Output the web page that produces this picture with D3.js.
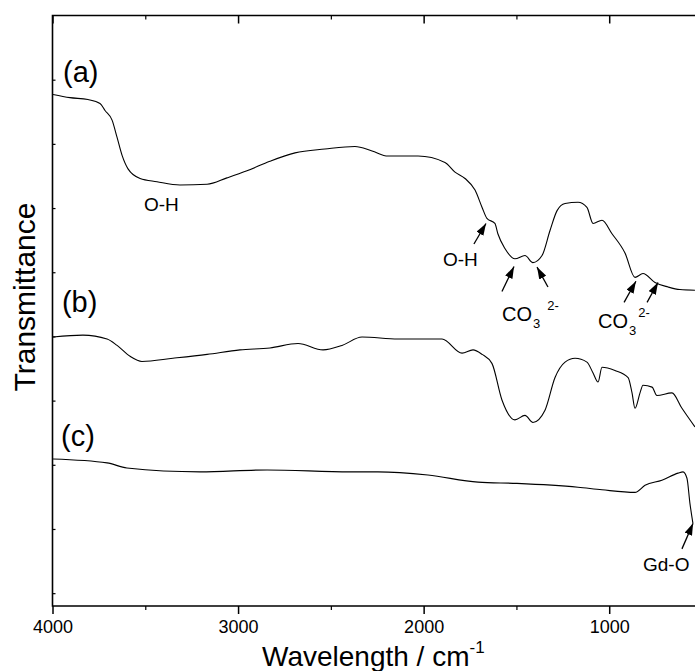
<!DOCTYPE html>
<html>
<head>
<meta charset="utf-8">
<script src="https://cdn.jsdelivr.net/npm/d3@7"></script>
<style>
  body { margin: 0; background: #fff; }
  svg { display: block; font-family: "Liberation Sans", Arial, sans-serif; }
</style>
</head>
<body>
<div id="chart"></div>
<script>
// spectra: [wavenumber, transmittance (a.u.)]
var seriesA = [
  [3997, 7.77], [3906, 7.72], [3809, 7.69], [3744, 7.63], [3717, 7.52], [3679, 7.37],
  [3652, 7.10], [3625, 6.82], [3593, 6.61], [3528, 6.46], [3437, 6.41], [3313, 6.36],
  [3167, 6.37], [3060, 6.47], [2952, 6.58], [2828, 6.73], [2693, 6.86], [2532, 6.92],
  [2370, 6.96], [2278, 6.89], [2192, 6.81], [2030, 6.81], [1885, 6.71], [1831, 6.56],
  [1777, 6.46], [1723, 6.28], [1685, 6.01], [1659, 5.84], [1616, 5.76], [1600, 5.60],
  [1562, 5.37], [1508, 5.21], [1454, 5.26], [1411, 5.15], [1362, 5.26], [1319, 5.65],
  [1281, 5.96], [1238, 6.07], [1168, 6.09], [1120, 6.01], [1087, 5.76], [1039, 5.81],
  [985, 5.60], [915, 5.30], [861, 4.92], [818, 4.98], [753, 4.84], [683, 4.77],
  [619, 4.73], [538, 4.72]
];
var seriesB = [
  [3997, 3.99], [3836, 4.02], [3706, 3.96], [3652, 3.86], [3582, 3.69], [3518, 3.61],
  [3351, 3.66], [3167, 3.72], [2990, 3.79], [2828, 3.82], [2677, 3.89], [2542, 3.79],
  [2440, 3.86], [2332, 3.99], [2138, 3.96], [1901, 3.96], [1793, 3.74], [1734, 3.79],
  [1685, 3.72], [1632, 3.58], [1578, 3.01], [1508, 2.70], [1454, 2.77], [1411, 2.66],
  [1346, 2.85], [1292, 3.36], [1238, 3.60], [1184, 3.66], [1120, 3.60], [1087, 3.43],
  [1060, 3.29], [1039, 3.52], [969, 3.47], [898, 3.36], [877, 3.12], [861, 2.88],
  [834, 3.12], [818, 3.24], [769, 3.21], [743, 3.08], [662, 3.12], [608, 2.88],
  [538, 2.59]
];
var seriesC = [
  [3997, 2.09], [3706, 2.03], [3599, 1.95], [3205, 1.89], [2844, 1.92], [2397, 1.89],
  [2246, 1.89], [1977, 1.84], [1707, 1.73], [1497, 1.71], [1168, 1.65], [1039, 1.61],
  [861, 1.57], [807, 1.68], [716, 1.76], [629, 1.87], [602, 1.89], [581, 1.79],
  [565, 1.40], [549, 1.09]
];

var xMajor = [4000, 3000, 2000, 1000];
var xMinor = [3500, 2500, 1500];
var yTicks = [0, 1, 2, 3, 4, 5, 6, 7, 8];

// curve labels and band annotations, in data units
var curveLabels = [["(a)", 3943, 7.97], ["(b)", 3949, 4.38], ["(c)", 3954, 2.29]];
var plainNotes = [["O-H", 3507, 5.95], ["O-H", 1896, 5.09], ["Gd-O", 818, 0.34]];
var carbonateNotes = [[1578, 4.24], [1060, 4.13]];
var arrows = [
  [1729, 5.44, 1664, 5.76],
  [1578, 4.70, 1513, 5.09],
  [1330, 4.77, 1389, 5.08],
  [920, 4.53, 856, 4.86],
  [796, 4.53, 737, 4.84],
  [608, 0.69, 548, 1.09]
];

var W = 695, H = 671;
var mLeft = 52.5, mTop = 15.5, mBottom = 606;

var x = d3.scaleLinear().domain([4000, 500]).range([mLeft, mLeft + 3500 * 0.18557]);
var y = d3.scaleLinear().domain([-0.2, 9.0]).range([mBottom, mTop]);

var svg = d3.select("#chart").append("svg")
  .attr("width", W)
  .attr("height", H);

svg.append("defs").append("marker")
  .attr("id", "head")
  .attr("viewBox", "0 0 12 8")
  .attr("refX", 12).attr("refY", 4)
  .attr("markerWidth", 12).attr("markerHeight", 8)
  .attr("markerUnits", "userSpaceOnUse")
  .attr("orient", "auto")
  .append("path")
  .attr("d", "M0,0 L12,4 L0,8 Z")
  .attr("fill", "#000");

// spectra
var line = d3.line()
  .x(function(d) { return x(d[0]); })
  .y(function(d) { return y(d[1]); })
  .curve(d3.curveMonotoneX);

[seriesA, seriesB, seriesC].forEach(function(s) {
  svg.append("path")
    .datum(s)
    .attr("d", line)
    .attr("fill", "none")
    .attr("stroke", "#000")
    .attr("stroke-width", 1.1);
});

// frame + ticks
var xAxisBottom = d3.axisBottom(x).tickValues(xMajor).tickSize(8).tickPadding(6).tickFormat(d3.format("d"));
var gb = svg.append("g").attr("transform", "translate(0," + mBottom + ")").call(xAxisBottom);
gb.select(".domain").remove();
gb.selectAll(".tick line").attr("stroke-width", 1.5);
gb.selectAll("text").attr("font-size", 18).attr("fill", "#000");

var gbm = svg.append("g").attr("transform", "translate(0," + mBottom + ")")
  .call(d3.axisBottom(x).tickValues(xMinor).tickSize(4).tickFormat(""));
gbm.select(".domain").remove();
gbm.selectAll(".tick line").attr("stroke-width", 1.2);

var gt = svg.append("g").attr("transform", "translate(0," + mTop + ")")
  .call(d3.axisBottom(x).tickValues(xMajor).tickSize(8).tickFormat(""));
gt.select(".domain").remove();
gt.selectAll(".tick line").attr("stroke-width", 1.5);

var gtm = svg.append("g").attr("transform", "translate(0," + mTop + ")")
  .call(d3.axisBottom(x).tickValues(xMinor).tickSize(4).tickFormat(""));
gtm.select(".domain").remove();
gtm.selectAll(".tick line").attr("stroke-width", 1.2);

var gl = svg.append("g").attr("transform", "translate(" + mLeft + ",0)")
  .call(d3.axisRight(y).tickValues(yTicks).tickSize(3).tickFormat(""));
gl.select(".domain").remove();
gl.selectAll(".tick line").attr("stroke-width", 1.2);

svg.append("path")
  .attr("d", "M" + W + "," + mTop + "H" + mLeft + "V" + mBottom + "H" + W)
  .attr("fill", "none")
  .attr("stroke", "#000")
  .attr("stroke-width", 1.6);

// axis titles
svg.append("text")
  .attr("transform", "translate(35,297)rotate(-90)")
  .attr("text-anchor", "middle")
  .attr("font-size", 30)
  .text("Transmittance");

var xt = svg.append("text")
  .attr("x", 262).attr("y", 666)
  .attr("font-size", 28)
  .text("Wavelength / cm");
xt.append("tspan").attr("dy", -13).attr("font-size", 17).text("-1");

// labels
svg.selectAll(".clabel").data(curveLabels).enter().append("text")
  .attr("class", "clabel")
  .attr("x", function(d) { return x(d[1]); })
  .attr("y", function(d) { return y(d[2]); })
  .attr("font-size", 29)
  .text(function(d) { return d[0]; });

svg.selectAll(".note").data(plainNotes).enter().append("text")
  .attr("class", "note")
  .attr("x", function(d) { return x(d[1]); })
  .attr("y", function(d) { return y(d[2]); })
  .attr("font-size", 19)
  .text(function(d) { return d[0]; });

var co = svg.selectAll(".co").data(carbonateNotes).enter().append("text")
  .attr("class", "co")
  .attr("x", function(d) { return x(d[0]); })
  .attr("y", function(d) { return y(d[1]); })
  .attr("font-size", 20)
  .text("CO");
co.append("tspan").attr("dy", 7).attr("dx", 1).attr("font-size", 13).text("3");
co.append("tspan").attr("dy", -18).attr("dx", function(d, i) { return i === 0 ? 7 : 2; })
  .attr("font-size", 13).text("2-");

svg.selectAll(".arrow").data(arrows).enter().append("line")
  .attr("class", "arrow")
  .attr("x1", function(d) { return x(d[0]); })
  .attr("y1", function(d) { return y(d[1]); })
  .attr("x2", function(d) { return x(d[2]); })
  .attr("y2", function(d) { return y(d[3]); })
  .attr("stroke", "#000")
  .attr("stroke-width", 1.3)
  .attr("marker-end", "url(#head)");
</script>
</body>
</html>
